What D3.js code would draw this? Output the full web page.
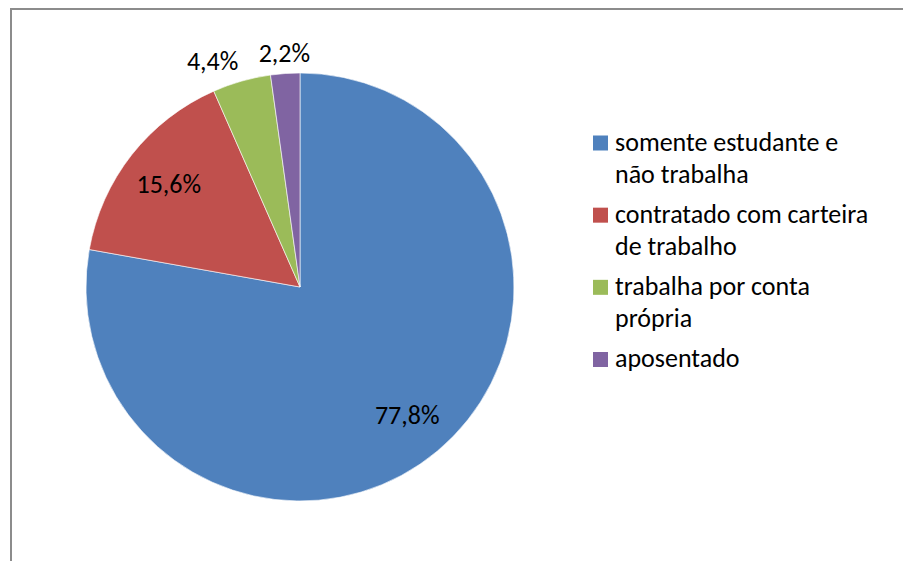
<!DOCTYPE html>
<html lang="pt">
<head>
<meta charset="utf-8" />
<style>
body { margin: 0; background: #fff; }
.frame { fill: none; stroke: #8c8c8c; stroke-width: 2px; }
.slice { stroke: #fff; stroke-width: 1px; stroke-opacity: 0.6; }
.pieLabel, .legendLabel {
    fill: #000;
    font-family: Calibri, Carlito, Lato, sans-serif;
    font-size: 26px;
}
</style>
</head>
<body>
<script src="https://cdn.jsdelivr.net/npm/d3@7"></script>
<script>
var categories = [
    ["somente estudante e", "não trabalha"],
    ["contratado com carteira", "de trabalho"],
    ["trabalha por conta", "própria"],
    ["aposentado"]
];
var values = [77.8, 15.6, 4.4, 2.2];
var labels = ["77,8%", "15,6%", "4,4%", "2,2%"];
var colors = ["#4f81bd", "#c0504d", "#9bbb59", "#8064a2"];

var width = 903, height = 561;
var cx = 300, cy = 287, radius = 214;

var svg = d3.select("body").append("svg")
    .attr("width", width)
    .attr("height", height);

// chart border (right/bottom edge fall outside the picture)
svg.append("rect")
    .attr("class", "frame")
    .attr("x", 11).attr("y", 9)
    .attr("width", 1000).attr("height", 1000);

var color = d3.scaleOrdinal().domain(d3.range(values.length)).range(colors);

var pie = d3.pie().sort(null).value(function (d) { return d; });
var arcs = pie(values);

var arc = d3.arc().innerRadius(0).outerRadius(radius);
var inLabel = d3.arc().innerRadius(radius * 0.78).outerRadius(radius * 0.78);

var g = svg.append("g").attr("transform", "translate(" + cx + "," + cy + ")");

g.selectAll(".slice")
    .data(arcs)
  .enter().append("path")
    .attr("class", "slice")
    .attr("fill", function (d, i) { return color(i); })
    .attr("d", arc);

// big slices get their label inside, small ones just outside the rim
g.selectAll(".pieLabel")
    .data(arcs)
  .enter().append("text")
    .attr("class", "pieLabel")
    .text(function (d, i) { return labels[i]; })
    .each(function (d) {
        var t = d3.select(this);
        var share = (d.endAngle - d.startAngle) / (2 * Math.PI);
        var mid = (d.startAngle + d.endAngle) / 2;
        if (share > 0.1) {
            var c = inLabel.centroid(d);
            t.attr("x", c[0]).attr("y", c[1])
                .attr("text-anchor", "middle")
                .attr("dy", "0.35em");
        } else {
            var r = radius + 12;
            var x = Math.sin(mid) * r, y = -Math.cos(mid) * r;
            var s = Math.sin(mid);
            t.attr("x", x).attr("y", y)
                .attr("text-anchor", Math.abs(s) < 0.15 ? "middle" : (s < 0 ? "end" : "start"));
        }
    });

// legend
var legend = svg.append("g").attr("transform", "translate(593,0)");
var itemY = d3.scalePoint().domain(d3.range(categories.length)).range([150.5, 367]);

var item = legend.selectAll(".item")
    .data(categories)
  .enter().append("g")
    .attr("class", "item")
    .attr("transform", function (d, i) { return "translate(0," + itemY(i) + ")"; });

item.append("rect")
    .attr("x", 0).attr("y", -15)
    .attr("width", 15).attr("height", 15)
    .attr("fill", function (d, i) { return color(i); });

item.append("text")
    .attr("class", "legendLabel")
    .attr("x", 22)
    .selectAll("tspan")
    .data(function (d) { return d; })
  .enter().append("tspan")
    .attr("x", 22)
    .attr("y", function (d, j) { return j * 32.5; })
    .text(function (d) { return d; });
</script>
</body>
</html>
